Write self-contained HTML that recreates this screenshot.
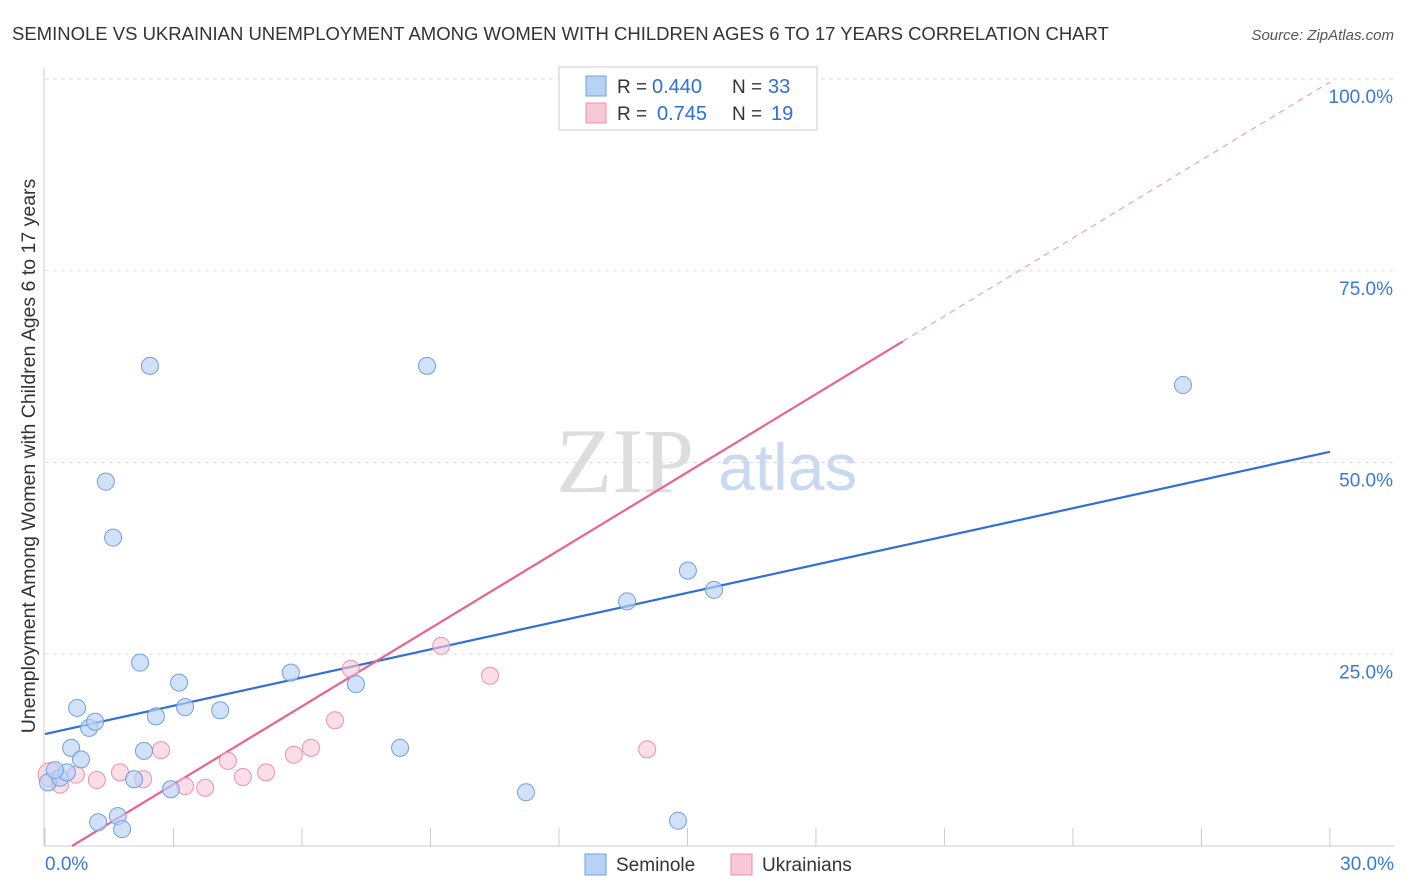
<!DOCTYPE html>
<html><head><meta charset="utf-8"><style>
body{margin:0;background:#fff;font-family:"Liberation Sans",sans-serif;}
#wrap{position:relative;width:1406px;height:892px;overflow:hidden;}
</style></head><body>
<div id="wrap">
<svg id="svg" width="1406" height="892" xmlns="http://www.w3.org/2000/svg">
<text x="12" y="40" font-size="18.5" fill="#333">SEMINOLE VS UKRAINIAN UNEMPLOYMENT AMONG WOMEN WITH CHILDREN AGES 6 TO 17 YEARS CORRELATION CHART</text>
<text x="1394" y="40" font-size="15" fill="#555" text-anchor="end" font-style="italic">Source: ZipAtlas.com</text>
<text x="35" y="456" font-size="19.5" fill="#333" text-anchor="middle" transform="rotate(-90 35 456)">Unemployment Among Women with Children Ages 6 to 17 years</text>
<text x="556" y="492" font-size="92" fill="#ddd" font-family="Liberation Serif,serif">ZIP</text>
<text x="718" y="490" font-size="66" fill="#c9d9ef">atlas</text>
<g id="grid"></g><g id="lines"></g><g id="pts"></g>
<g>
<rect x="559" y="67" width="258" height="63" fill="#fff" stroke="#ccc"/>
<rect x="586" y="76" width="20" height="20" fill="#b8d2f5" stroke="#6f9fe0"/>
<rect x="586" y="103" width="20" height="20" fill="#f9c8d7" stroke="#ec91ad"/>
<text x="617" y="93" font-size="19" fill="#333">R =</text>
<text x="652" y="93" font-size="20" fill="#2f6fd6">0.440</text>
<text x="732" y="93" font-size="19" fill="#333">N =</text>
<text x="768" y="93" font-size="20" fill="#2f6fd6">33</text>
<text x="617" y="120" font-size="19" fill="#333">R =</text>
<text x="657" y="120" font-size="20" fill="#2f6fd6">0.745</text>
<text x="732" y="120" font-size="19" fill="#333">N =</text>
<text x="771" y="120" font-size="20" fill="#2f6fd6">19</text>
</g>
<g>
<rect x="585" y="854" width="21" height="21" fill="#b8d2f5" stroke="#6f9fe0"/>
<text x="616" y="871" font-size="19" fill="#333">Seminole</text>
<rect x="731" y="854" width="21" height="21" fill="#f9c8d7" stroke="#ec91ad"/>
<text x="762" y="871" font-size="19" fill="#333">Ukrainians</text>
</g>
</svg>
</div>
<script>
const xTicks=[0,3,6,9,12,15,18,21,24,27,30];
const yTicks=[25,50,75,100];
const yTickLabels=["25.0%","50.0%","75.0%","100.0%"];
const seminoleX=[0.07,0.35,0.51,0.23,0.61,0.75,0.84,1.03,1.17,1.24,1.42,1.59,1.70,1.80,2.08,2.22,2.31,2.45,2.59,2.94,3.13,3.27,4.09,5.74,7.26,8.29,8.92,11.23,13.59,14.78,15.01,15.62,26.57];
const seminoleY=[8.3,8.9,9.6,9.9,12.8,18.0,11.3,15.4,16.2,3.1,47.5,40.2,3.9,2.2,8.7,23.9,12.4,62.6,16.9,7.4,21.3,18.1,17.7,22.6,21.1,12.8,62.6,7.0,31.9,3.3,35.9,33.4,60.1];
const ukrX=[0.12,0.35,0.72,1.21,1.75,2.29,2.71,3.27,3.74,4.27,4.62,5.16,5.81,6.21,6.77,7.14,9.25,10.39,14.06,17.70];
const ukrY=[9.3,8.0,9.3,8.6,9.6,8.7,12.5,7.8,7.6,11.1,9.0,9.6,11.9,12.8,16.4,23.1,26.1,22.2,12.6,99.9];
const seminoleLine=[0,14.6,30,51.4];
const ukrLine=[0.63,0,20.03,65.8,30,99.6];
const X=v=>45+v*42.83, Y=v=>846-v*7.67;
const NS="http://www.w3.org/2000/svg";
function mk(p,t,a){const e=document.createElementNS(NS,t);for(const k in a)e.setAttribute(k,a[k]);p.appendChild(e);return e;}
const g=document.getElementById('grid');
yTicks.forEach((t,i)=>{
 const l=mk(g,'line',{x1:45,x2:1394,y1:Y(t),y2:Y(t),stroke:'#ddd','stroke-dasharray':'4,4'});
 
 
 const tx=mk(g,'text',{x:1393,y:Y(t)+24,'font-size':19,fill:'#3a78d8','text-anchor':'end'});
 tx.textContent=yTickLabels[i];
 
 
});
mk(g,'line',{x1:44,x2:44,y1:68,y2:846,stroke:'#ccc'});
mk(g,'line',{x1:44,x2:1394,y1:846,y2:846,stroke:'#ccc'});
xTicks.forEach(t=>{
 const l=mk(g,'line',{x1:X(t),x2:X(t),y1:828,y2:846,stroke:'#ccc'});
 
 
});
const x0=mk(g,'text',{x:45,y:870,'font-size':19,fill:'#3a78d8'});x0.textContent='0.0%';


const x1=mk(g,'text',{x:1394,y:870,'font-size':19,fill:'#3a78d8','text-anchor':'end'});x1.textContent='30.0%';


const L=document.getElementById('lines');
const bl=mk(L,'line',{x1:X(seminoleLine[0]),y1:Y(seminoleLine[1]),x2:X(seminoleLine[2]),y2:Y(seminoleLine[3]),stroke:'#2f6fd6','stroke-width':2.2});


const pl=mk(L,'line',{x1:X(ukrLine[0]),y1:Y(ukrLine[1]),x2:X(ukrLine[2]),y2:Y(ukrLine[3]),stroke:'#e8648e','stroke-width':2.2});


const pd=mk(L,'line',{x1:X(ukrLine[2]),y1:Y(ukrLine[3]),x2:X(ukrLine[4]),y2:Y(ukrLine[5]),stroke:'#f0a0b8','stroke-width':1.2,'stroke-dasharray':'6,5'});


const P=document.getElementById('pts');
ukrX.forEach((v,i)=>{
 const c=mk(P,'circle',{cx:X(v),cy:Y(ukrY[i]),r:i===0?12:8.5,fill:'#f9c8d7','fill-opacity':0.6,stroke:'#ec91ad'});
 
 
});
seminoleX.forEach((v,i)=>{
 const c=mk(P,'circle',{cx:X(v),cy:Y(seminoleY[i]),r:8.5,fill:'#b8d2f5','fill-opacity':0.65,stroke:'#6f9fe0'});
 
 
});
</script>
</body></html>
